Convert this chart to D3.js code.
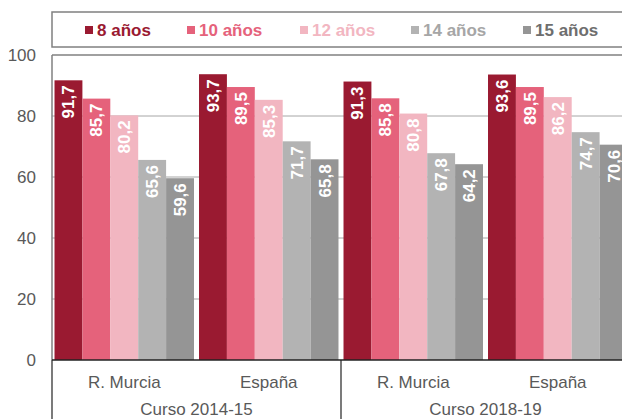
<!DOCTYPE html>
<html>
<head>
<meta charset="utf-8">
<script src="https://cdn.jsdelivr.net/npm/d3@7"></script>
<style>
  body { margin: 0; background: #fff; }
  svg { display: block; font-family: "Liberation Sans", Arial, sans-serif; }
</style>
</head>
<body>
<div id="chart"></div>
<script>
// data
var groups = ["R. Murcia", "España", "R. Murcia", "España"];
var cursos = ["Curso 2014-15", "Curso 2018-19"];
var series = ["8 años", "10 años", "12 años", "14 años", "15 años"];
var colors = ["#9a1a31", "#e5627b", "#f2b6c1", "#b3b3b3", "#959595"];
var legendText = ["#9a1a31", "#e5627b", "#f2b6c1", "#a6a6a6", "#6e6e6e"];
var values = [
    [91.7, 85.7, 80.2, 65.6, 59.6],
    [93.7, 89.5, 85.3, 71.7, 65.8],
    [91.3, 85.8, 80.8, 67.8, 64.2],
    [93.6, 89.5, 86.2, 74.7, 70.6]
];
var yTicks = [0, 20, 40, 60, 80, 100];

var W = 622, H = 419;
var plotLeft = 52, plotRight = 630, plotTop = 55, plotBottom = 360;

var svg = d3.select("#chart").append("svg")
    .attr("width", W)
    .attr("height", H);

var y = d3.scaleLinear().domain([0, 100]).range([plotBottom, plotTop]);
var x0 = d3.scaleBand().domain(d3.range(groups.length)).range([plotLeft, plotRight]).paddingInner(0).paddingOuter(0);
var x1 = d3.scaleBand().domain(d3.range(series.length)).range([0, x0.bandwidth()]).paddingInner(0).paddingOuter(0.09);

// gridlines
svg.append("g").selectAll("line")
    .data(yTicks.filter(d => d > 0 && d < 100))
    .enter().append("line")
    .attr("x1", plotLeft).attr("x2", plotRight)
    .attr("y1", d => y(d)).attr("y2", d => y(d))
    .attr("stroke", "#a6a6a6").attr("stroke-width", 1);

// bars
var g = svg.append("g").selectAll("g")
    .data(values)
    .enter().append("g")
    .attr("transform", (d, i) => "translate(" + x0(i) + ",0)");

g.selectAll("rect")
    .data(d => d)
    .enter().append("rect")
    .attr("x", (d, j) => x1(j))
    .attr("y", d => y(d))
    .attr("width", x1.bandwidth())
    .attr("height", d => y(0) - y(d))
    .attr("fill", (d, j) => colors[j]);

g.selectAll("text")
    .data(d => d)
    .enter().append("text")
    .attr("transform", (d, j) => "translate(" + (x1(j) + x1.bandwidth() / 2 + 6) + "," + (y(d) + 5) + ") rotate(-90)")
    .attr("text-anchor", "end")
    .attr("fill", "#fff")
    .attr("font-weight", "bold")
    .attr("font-size", "17px")
    .text(d => d.toFixed(1).replace(".", ","));

// frame
svg.append("line").attr("x1", plotLeft).attr("x2", plotRight).attr("y1", plotTop).attr("y2", plotTop)
    .attr("stroke", "#808080").attr("stroke-width", 1.5);
svg.append("line").attr("x1", plotLeft).attr("x2", plotLeft).attr("y1", plotTop).attr("y2", plotBottom)
    .attr("stroke", "#808080").attr("stroke-width", 1.5);
svg.append("line").attr("x1", plotLeft).attr("x2", plotRight).attr("y1", plotBottom).attr("y2", plotBottom)
    .attr("stroke", "#222").attr("stroke-width", 1.5);

// separators under the axis
[plotLeft, x0(2), plotRight].forEach(function (sx) {
    svg.append("line").attr("x1", sx).attr("x2", sx).attr("y1", plotBottom).attr("y2", H)
        .attr("stroke", "#222").attr("stroke-width", 1.2);
});

// y tick labels
svg.append("g").selectAll("text")
    .data(yTicks)
    .enter().append("text")
    .attr("x", 36)
    .attr("y", d => y(d) + 6)
    .attr("text-anchor", "end")
    .attr("fill", "#595959")
    .attr("font-size", "17px")
    .text(d => d);

// category labels
svg.append("g").selectAll("text")
    .data(groups)
    .enter().append("text")
    .attr("x", (d, i) => x0(i) + x0.bandwidth() / 2)
    .attr("y", 388)
    .attr("text-anchor", "middle")
    .attr("fill", "#595959")
    .attr("font-size", "17px")
    .text(d => d);

svg.append("g").selectAll("text")
    .data(cursos)
    .enter().append("text")
    .attr("x", (d, i) => x0(i * 2) + x0.bandwidth())
    .attr("y", 415)
    .attr("text-anchor", "middle")
    .attr("fill", "#595959")
    .attr("font-size", "17px")
    .text(d => d);

// legend
svg.append("rect")
    .attr("x", plotLeft).attr("y", 12)
    .attr("width", plotRight - plotLeft + 20).attr("height", 35)
    .attr("fill", "none").attr("stroke", "#808080").attr("stroke-width", 1.5);

var legendX = [85, 187, 300, 411, 523];
var lg = svg.append("g").selectAll("g")
    .data(series)
    .enter().append("g")
    .attr("transform", (d, i) => "translate(" + legendX[i] + ",30)");
lg.append("rect")
    .attr("x", 0).attr("y", -4)
    .attr("width", 8).attr("height", 8)
    .attr("fill", (d, i) => colors[i]);
lg.append("text")
    .attr("x", 12).attr("y", 6)
    .attr("fill", (d, i) => legendText[i])
    .attr("font-weight", "bold")
    .attr("font-size", "17px")
    .text(d => d);
</script>
</body>
</html>
